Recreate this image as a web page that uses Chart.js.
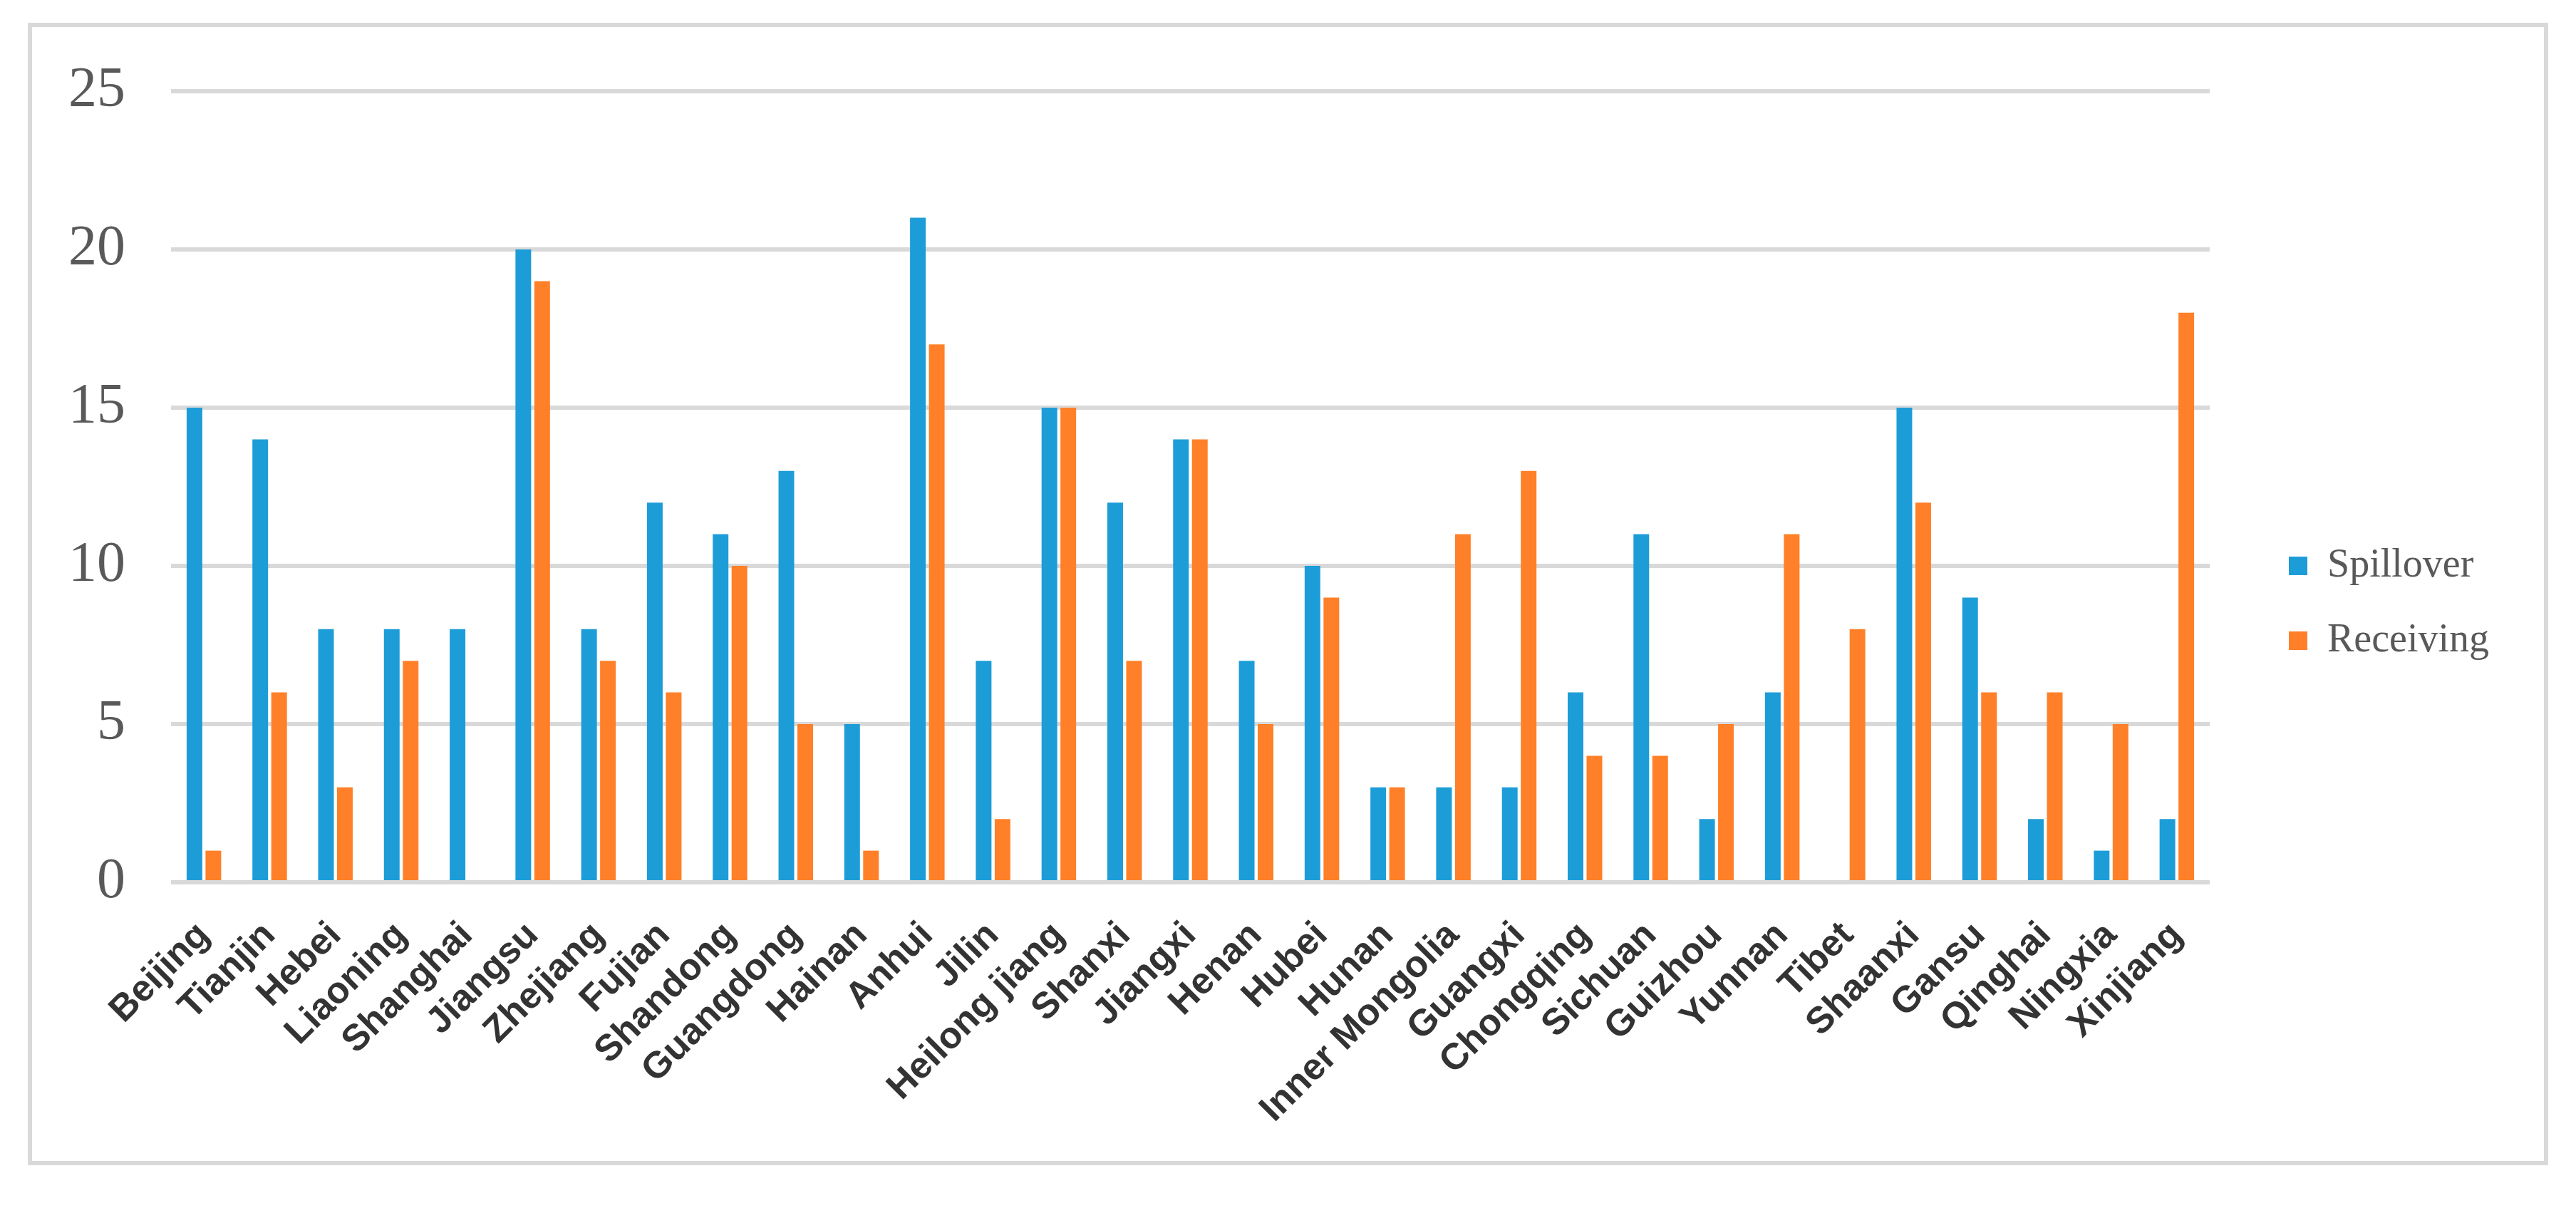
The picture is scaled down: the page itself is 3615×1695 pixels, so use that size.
<!DOCTYPE html>
<html>
<head>
<meta charset="utf-8">
<script src="https://cdn.jsdelivr.net/npm/chart.js@4.4.1/dist/chart.umd.min.js"></script>
<style>
  html, body { margin: 0; padding: 0; background: #fff; }
  #wrap { position: relative; width: 3615px; height: 1695px; }
  #frame { position: absolute; left: 39px; top: 32px; width: 3525px; height: 1591px; border: 6px solid #d9d9d9; pointer-events: none; }
  canvas { position: absolute; left: 0; top: 0; }
</style>
</head>
<body>
<div id="wrap">
  <canvas id="chart" width="3615" height="1695"></canvas>
  <div id="frame"></div>
</div>
<script>
// Provinces along the x axis
const provinces = ['Beijing', 'Tianjin', 'Hebei', 'Liaoning', 'Shanghai', 'Jiangsu', 'Zhejiang', 'Fujian',
    'Shandong', 'Guangdong', 'Hainan', 'Anhui', 'Jilin', 'Heilong jiang', 'Shanxi', 'Jiangxi', 'Henan',
    'Hubei', 'Hunan', 'Inner Mongolia', 'Guangxi', 'Chongqing', 'Sichuan', 'Guizhou', 'Yunnan', 'Tibet',
    'Shaanxi', 'Gansu', 'Qinghai', 'Ningxia', 'Xinjiang'];

// Series values
const spillover = [15, 14, 8, 8, 8, 20, 8, 12, 11, 13, 5, 21, 7, 15, 12, 14, 7, 10, 3, 3, 3, 6, 11, 2, 6, 0, 15, 9, 2, 1, 2];
const receiving = [1, 6, 3, 7, 0, 19, 7, 6, 10, 5, 1, 17, 2, 15, 7, 14, 5, 9, 3, 11, 13, 4, 4, 5, 11, 8, 12, 6, 6, 5, 18];

const yTicks = [0, 5, 10, 15, 20, 25];

// Legend sizing: keep it to the right of the plot like the original
const legendTweak = {
    id: 'legendTweak',
    beforeLayout(chart) {
        const lg = chart.legend;
        if (lg && !lg._patched) {
            const origFit = lg.fit.bind(lg);
            lg.fit = function () {
                origFit();
                this.width = 420;
            };
            lg._patched = true;
        }
    },
    afterLayout(chart) {
        const lg = chart.legend;
        if (lg) {
            lg.left += 62;
            lg.right += 62;
            lg.top -= 45;
            lg.bottom -= 45;
        }
    },
};

new Chart(document.getElementById('chart'), {
    type: 'bar',
    data: {
        labels: provinces,
        datasets: [
            {
                label: 'Spillover',
                data: spillover,
                backgroundColor: '#1d9dd8',
                categoryPercentage: 0.574,
                barPercentage: 0.83,
            },
            {
                label: 'Receiving',
                data: receiving,
                backgroundColor: '#ff8028',
                categoryPercentage: 0.574,
                barPercentage: 0.83,
            },
        ],
    },
    options: {
        responsive: false,
        devicePixelRatio: 1,
        animation: false,
        layout: {
            padding: { left: 40, top: 128, right: 94, bottom: 40 },
        },
        plugins: {
            legend: {
                position: 'right',
                align: 'center',
                labels: {
                    boxWidth: 26,
                    boxHeight: 26,
                    padding: 49,
                    color: '#595959',
                    font: { family: 'Liberation Serif', size: 56 },
                },
            },
            tooltip: { enabled: false },
        },
        scales: {
            x: {
                grid: { display: false },
                border: { display: false },
                ticks: {
                    autoSkip: false,
                    maxRotation: 45,
                    minRotation: 45,
                    padding: 36,
                    color: '#333333',
                    font: { family: 'Liberation Sans', size: 52, weight: 'bold' },
                },
                afterFit(scale) {
                    scale.height = 417;
                    scale.paddingLeft = 0;
                    scale.paddingRight = 0;
                },
            },
            y: {
                min: 0,
                max: 25,
                grid: { color: '#d9d9d9', lineWidth: 6, drawTicks: false },
                border: { display: false },
                ticks: {
                    padding: 64,
                    color: '#595959',
                    font: { family: 'Liberation Serif', size: 80 },
                },
                afterBuildTicks(scale) {
                    scale.ticks = yTicks.map((v) => ({ value: v }));
                },
                afterFit(scale) {
                    scale.width = 200;
                    scale.paddingTop = 0;
                    scale.paddingBottom = 0;
                },
            },
        },
    },
    plugins: [legendTweak],
});
</script>
</body>
</html>
